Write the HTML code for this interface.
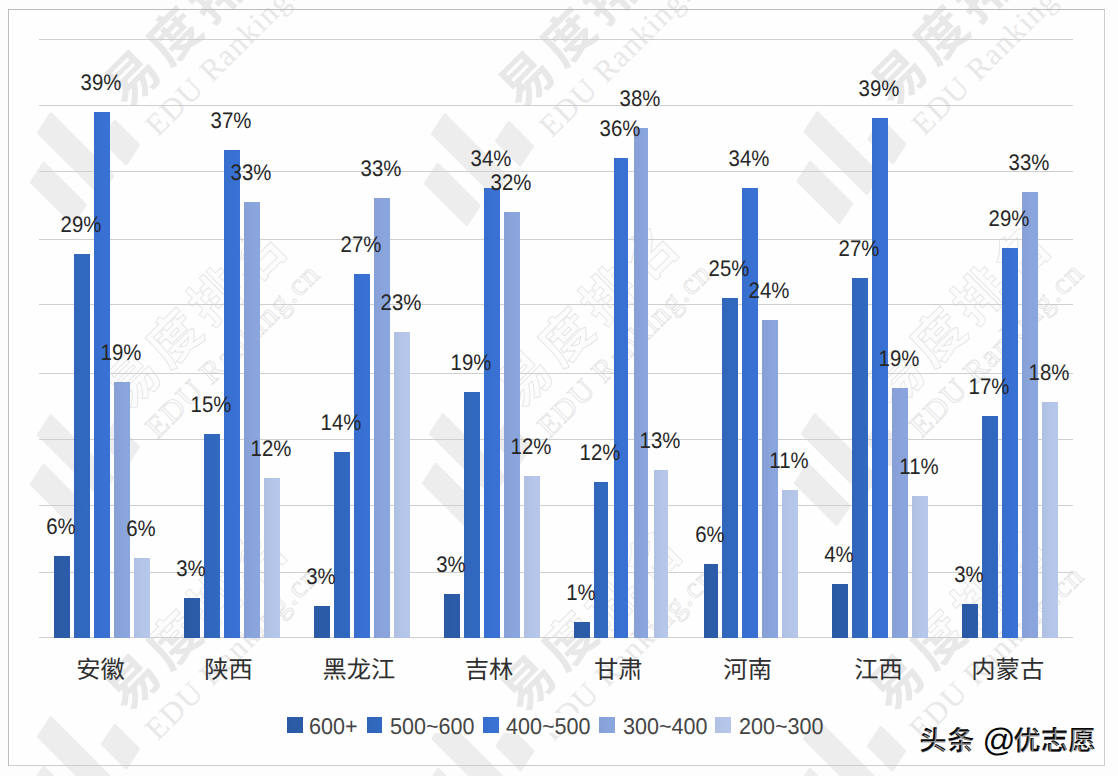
<!DOCTYPE html>
<html lang="zh"><head><meta charset="utf-8"><title>chart</title>
<style>
html,body{margin:0;padding:0;background:#fdfdfd}
#c{position:relative;width:1118px;height:776px;overflow:hidden;background:#fdfdfd;font-family:"Liberation Sans",sans-serif;text-rendering:geometricPrecision}
#c>*{position:absolute}
.fb,.fr{left:8.0px;top:9.0px;width:1097.0px;height:757.0px;box-sizing:border-box}
.fb{background:#fefefe}
.fr{border:1px solid #cdcdcd;border-left-color:#bcbcbc;border-top-color:#bcbcbc}
svg{left:0;top:0;width:1118px;height:776px;overflow:hidden}
.gl{left:39.0px;width:1034.3px;height:1px;background:#cfcfcf}
.b{width:15.6px}
.s1{background:linear-gradient(90deg,#2b59a3,#2c5ba7 55%,#2c5ca9)}
.s2{background:linear-gradient(90deg,#3065b9,#3168be 55%,#3169c0)}
.s3{background:linear-gradient(90deg,#376ecd,#3871d2 55%,#3972d4)}
.s4{background:linear-gradient(90deg,#87a0d6,#8aa4dc 55%,#8ba6de)}
.s5{background:linear-gradient(90deg,#b0c0e3,#b4c5e9 55%,#b6c7eb)}
.d{font-size:22.5px;line-height:20px;height:20px;width:60px;text-align:center;color:#262626;white-space:nowrap;transform:scaleX(.905)}
.lt{font-size:22.8px;line-height:22px;color:#454545;white-space:nowrap;top:714.7px;transform:scaleX(.945);transform-origin:0 50%}
.lb{left:279px;top:713px;width:520px;height:20px;background:#fefefe}
.ls{width:15.4px;height:15.4px;top:717.3px}
</style></head><body>
<div id="c">
<div class="fb"></div>
<svg viewBox="0 0 1118 776"><defs><g id="wmL"><g fill="#ededee" stroke="#ededee" stroke-width="3" stroke-linejoin="round"><path d="M1.5 2.2 L1.5 -56.2 L23.5 -60.8 L23.5 -2.2 Z"/><path d="M41.5 1.2 L41.5 -86.2 L63.5 -90.8 L63.5 -3.2 Z"/><path d="M81.5 -2.2 L81.5 -35.8 L103.5 -40.2 L103.5 -6.8 Z"/></g></g><g id="wmS"><text x="120.5 179.5 238.5 297.5" y="-39.6" font-family="Liberation Sans,Noto Sans CJK SC,sans-serif" font-size="52" font-weight="bold" fill="#e8e8e9">易度排名</text><text x="122.5" y="1.5" font-family="Liberation Serif,serif" font-size="31" letter-spacing="1.3" fill="#e8e8e9">EDU Ranking.cn</text></g><g id="wmO"><text x="120.5 179.5 238.5 297.5" y="-39.6" font-family="Liberation Sans,Noto Sans CJK SC,sans-serif" font-size="52" font-weight="bold" fill="#fcfcfc" stroke="#e2e2e3" stroke-width="0.78">易度排名</text><text x="122.5" y="1.5" font-family="Liberation Serif,serif" font-size="31" letter-spacing="1.3" fill="#fcfcfc" stroke="#e2e2e3" stroke-width="0.8">EDU Ranking.cn</text></g><clipPath id="cpT"><rect x="0" y="0" width="1118" height="638"/></clipPath><clipPath id="cpB"><rect x="0" y="638" width="1118" height="140"/></clipPath></defs><use href="#wmL" transform="translate(70.1 223.0) rotate(-45)"/><use href="#wmS" transform="translate(70.1 223.0) rotate(-45)"/><use href="#wmL" transform="translate(464.1 224.0) rotate(-45)"/><use href="#wmS" transform="translate(464.1 224.0) rotate(-45)"/><use href="#wmL" transform="translate(836.6 222.0) rotate(-45)"/><use href="#wmS" transform="translate(836.6 222.0) rotate(-45)"/><use href="#wmL" transform="translate(70.1 525.0) rotate(-45)"/><use href="#wmO" transform="translate(70.1 525.0) rotate(-45)"/><use href="#wmL" transform="translate(462.1 524.0) rotate(-45)"/><use href="#wmO" transform="translate(462.1 524.0) rotate(-45)"/><use href="#wmL" transform="translate(834.1 524.0) rotate(-45)"/><use href="#wmO" transform="translate(834.1 524.0) rotate(-45)"/><use href="#wmL" transform="translate(70.1 827.0) rotate(-45)"/><g clip-path="url(#cpB)"><use href="#wmS" transform="translate(70.1 827.0) rotate(-45)"/></g><g clip-path="url(#cpT)"><use href="#wmO" transform="translate(70.1 827.0) rotate(-45)"/></g><use href="#wmL" transform="translate(464.6 829.0) rotate(-45)"/><g clip-path="url(#cpB)"><use href="#wmS" transform="translate(465.6 828.0) rotate(-45)"/></g><g clip-path="url(#cpT)"><use href="#wmO" transform="translate(465.6 828.0) rotate(-45)"/></g><use href="#wmL" transform="translate(836.1 829.0) rotate(-45)"/><g clip-path="url(#cpB)"><use href="#wmS" transform="translate(834.1 827.0) rotate(-45)"/></g><g clip-path="url(#cpT)"><use href="#wmO" transform="translate(834.1 827.0) rotate(-45)"/></g></svg>
<div class="fr"></div>
<div class="gl" style="top:38.6px"></div><div class="gl" style="top:104.7px"></div><div class="gl" style="top:170.6px"></div><div class="gl" style="top:238.6px"></div><div class="gl" style="top:304.4px"></div><div class="gl" style="top:372.6px"></div><div class="gl" style="top:438.9px"></div><div class="gl" style="top:504.7px"></div><div class="gl" style="top:571.9px"></div><div class="gl" style="top:637.4px"></div>
<div class="b s1" style="left:54.0px;width:15.8px;top:556.3px;height:81.6px"></div><div class="b s2" style="left:74.1px;width:15.7px;top:254.1px;height:383.8px"></div><div class="b s3" style="left:94.1px;width:15.8px;top:112.0px;height:525.9px"></div><div class="b s4" style="left:114.1px;width:15.8px;top:382.3px;height:255.6px"></div><div class="b s5" style="left:134.2px;width:15.7px;top:558.3px;height:79.6px"></div>
<div class="b s1" style="left:184.0px;width:15.8px;top:598.0px;height:39.9px"></div><div class="b s2" style="left:204.1px;width:15.7px;top:434.1px;height:203.8px"></div><div class="b s3" style="left:224.1px;width:15.8px;top:150.0px;height:487.9px"></div><div class="b s4" style="left:244.1px;width:15.8px;top:202.3px;height:435.6px"></div><div class="b s5" style="left:264.2px;width:15.7px;top:478.2px;height:159.7px"></div>
<div class="b s1" style="left:314.0px;width:15.8px;top:606.0px;height:31.9px"></div><div class="b s2" style="left:334.1px;width:15.7px;top:452.0px;height:185.9px"></div><div class="b s3" style="left:354.1px;width:15.8px;top:274.0px;height:363.9px"></div><div class="b s4" style="left:374.1px;width:15.8px;top:198.0px;height:439.9px"></div><div class="b s5" style="left:394.2px;width:15.7px;top:332.0px;height:305.9px"></div>
<div class="b s1" style="left:444.0px;width:15.8px;top:594.0px;height:43.9px"></div><div class="b s2" style="left:464.1px;width:15.7px;top:392.0px;height:245.9px"></div><div class="b s3" style="left:484.1px;width:15.8px;top:188.0px;height:449.9px"></div><div class="b s4" style="left:504.1px;width:15.8px;top:212.0px;height:425.9px"></div><div class="b s5" style="left:524.2px;width:15.7px;top:476.0px;height:161.9px"></div>
<div class="b s1" style="left:574.0px;width:15.8px;top:622.0px;height:15.9px"></div><div class="b s2" style="left:594.1px;width:13.9px;top:482.0px;height:155.9px"></div><div class="b s3" style="left:614.1px;width:13.9px;top:158.0px;height:479.9px"></div><div class="b s4" style="left:634.1px;width:13.9px;top:128.0px;height:509.9px"></div><div class="b s5" style="left:654.2px;width:13.8px;top:470.0px;height:167.9px"></div>
<div class="b s1" style="left:704.0px;width:13.8px;top:564.0px;height:73.9px"></div><div class="b s2" style="left:722.2px;width:15.6px;top:298.0px;height:339.9px"></div><div class="b s3" style="left:742.2px;width:15.7px;top:188.0px;height:449.9px"></div><div class="b s4" style="left:762.1px;width:15.8px;top:320.0px;height:317.9px"></div><div class="b s5" style="left:782.2px;width:15.6px;top:490.0px;height:147.9px"></div>
<div class="b s1" style="left:832.1px;width:15.7px;top:584.0px;height:53.9px"></div><div class="b s2" style="left:852.2px;width:15.6px;top:278.0px;height:359.9px"></div><div class="b s3" style="left:872.2px;width:15.7px;top:118.0px;height:519.9px"></div><div class="b s4" style="left:892.1px;width:15.8px;top:388.0px;height:249.9px"></div><div class="b s5" style="left:912.2px;width:15.6px;top:496.0px;height:141.9px"></div>
<div class="b s1" style="left:962.1px;width:15.7px;top:604.0px;height:33.9px"></div><div class="b s2" style="left:982.2px;width:15.6px;top:416.0px;height:221.9px"></div><div class="b s3" style="left:1002.2px;width:15.7px;top:248.0px;height:389.9px"></div><div class="b s4" style="left:1022.1px;width:15.8px;top:192.0px;height:445.9px"></div><div class="b s5" style="left:1042.2px;width:15.6px;top:402.0px;height:235.9px"></div>
<span class="d" style="left:30.6px;top:517.2px">6%</span><span class="d" style="left:50.6px;top:215.0px">29%</span><span class="d" style="left:70.7px;top:72.9px">39%</span><span class="d" style="left:90.7px;top:343.2px">19%</span><span class="d" style="left:110.7px;top:519.2px">6%</span>
<span class="d" style="left:160.6px;top:558.9px">3%</span><span class="d" style="left:180.6px;top:395.0px">15%</span><span class="d" style="left:200.7px;top:110.9px">37%</span><span class="d" style="left:220.7px;top:163.2px">33%</span><span class="d" style="left:240.8px;top:439.1px">12%</span>
<span class="d" style="left:290.6px;top:566.9px">3%</span><span class="d" style="left:310.7px;top:412.9px">14%</span><span class="d" style="left:330.7px;top:234.9px">27%</span><span class="d" style="left:350.7px;top:158.9px">33%</span><span class="d" style="left:370.8px;top:292.9px">23%</span>
<span class="d" style="left:420.6px;top:554.9px">3%</span><span class="d" style="left:440.7px;top:352.9px">19%</span><span class="d" style="left:460.7px;top:148.9px">34%</span><span class="d" style="left:480.7px;top:172.9px">32%</span><span class="d" style="left:500.8px;top:436.9px">12%</span>
<span class="d" style="left:550.6px;top:582.9px">1%</span><span class="d" style="left:569.8px;top:442.9px">12%</span><span class="d" style="left:589.8px;top:118.9px">36%</span><span class="d" style="left:609.8px;top:88.9px">38%</span><span class="d" style="left:629.8px;top:430.9px">13%</span>
<span class="d" style="left:679.6px;top:524.9px">6%</span><span class="d" style="left:698.7px;top:258.9px">25%</span><span class="d" style="left:718.8px;top:148.9px">34%</span><span class="d" style="left:738.7px;top:280.9px">24%</span><span class="d" style="left:758.7px;top:450.9px">11%</span>
<span class="d" style="left:808.7px;top:544.9px">4%</span><span class="d" style="left:828.7px;top:238.9px">27%</span><span class="d" style="left:848.8px;top:78.9px">39%</span><span class="d" style="left:868.7px;top:348.9px">19%</span><span class="d" style="left:888.7px;top:456.9px">11%</span>
<span class="d" style="left:938.7px;top:564.9px">3%</span><span class="d" style="left:958.7px;top:376.9px">17%</span><span class="d" style="left:978.8px;top:208.9px">29%</span><span class="d" style="left:998.7px;top:152.9px">33%</span><span class="d" style="left:1018.7px;top:362.9px">18%</span>
<div class="lb"></div><div class="ls s1" style="left:287.4px"></div><span class="lt" style="left:309.3px">600+</span><div class="ls s2" style="left:367.0px"></div><span class="lt" style="left:390.2px">500~600</span><div class="ls s3" style="left:483.2px"></div><span class="lt" style="left:506.0px">400~500</span><div class="ls s4" style="left:599.3px"></div><span class="lt" style="left:622.5px">300~400</span><div class="ls s5" style="left:715.2px"></div><span class="lt" style="left:738.5px">200~300</span>
<svg viewBox="0 0 1118 776"><g fill="#303030" font-family="Liberation Sans,Noto Sans CJK SC,sans-serif" font-size="24.3"><text x="76.3 100.6" y="677.6">安徽</text><text x="204.3 228.6" y="677.6">陕西</text><text x="322.45 346.75 371.05" y="677.6">黑龙江</text><text x="464.8 489.1" y="677.6">吉林</text><text x="594.05 618.35" y="677.6">甘肃</text><text x="723.35 747.65" y="677.6">河南</text><text x="854.15 878.45" y="677.6">江西</text><text x="971.3 995.6 1019.9" y="677.6">内蒙古</text></g><g fill="#fff" stroke="#fff" stroke-width="0.8" transform="translate(1.3 1.3)"><text x="919.6 947.2" y="749.8" font-family="Liberation Sans,Noto Sans CJK SC,sans-serif" font-size="27" font-weight="bold">头条</text><text x="1013.4 1040.9 1068.4" y="749.8" font-family="Liberation Sans,Noto Sans CJK SC,sans-serif" font-size="27" font-weight="bold">优志愿</text><text x="982.6" y="750.6" font-family="Liberation Sans,sans-serif" font-size="32.5">@</text></g><g fill="#080808"><text x="919.6 947.2" y="749.8" font-family="Liberation Sans,Noto Sans CJK SC,sans-serif" font-size="27" font-weight="bold">头条</text><text x="1013.4 1040.9 1068.4" y="749.8" font-family="Liberation Sans,Noto Sans CJK SC,sans-serif" font-size="27" font-weight="bold">优志愿</text><text x="982.6" y="750.6" font-family="Liberation Sans,sans-serif" font-size="32.5">@</text></g><g fill="#fff" opacity=".55" transform="translate(1.1 1.2)"><text x="919.6 947.2" y="749.8" font-family="Liberation Sans,Noto Sans CJK SC,sans-serif" font-size="27" font-weight="300">头条</text><text x="1013.4 1040.9 1068.4" y="749.8" font-family="Liberation Sans,Noto Sans CJK SC,sans-serif" font-size="27" font-weight="300">优志愿</text></g></svg>
</div>
</body></html>
